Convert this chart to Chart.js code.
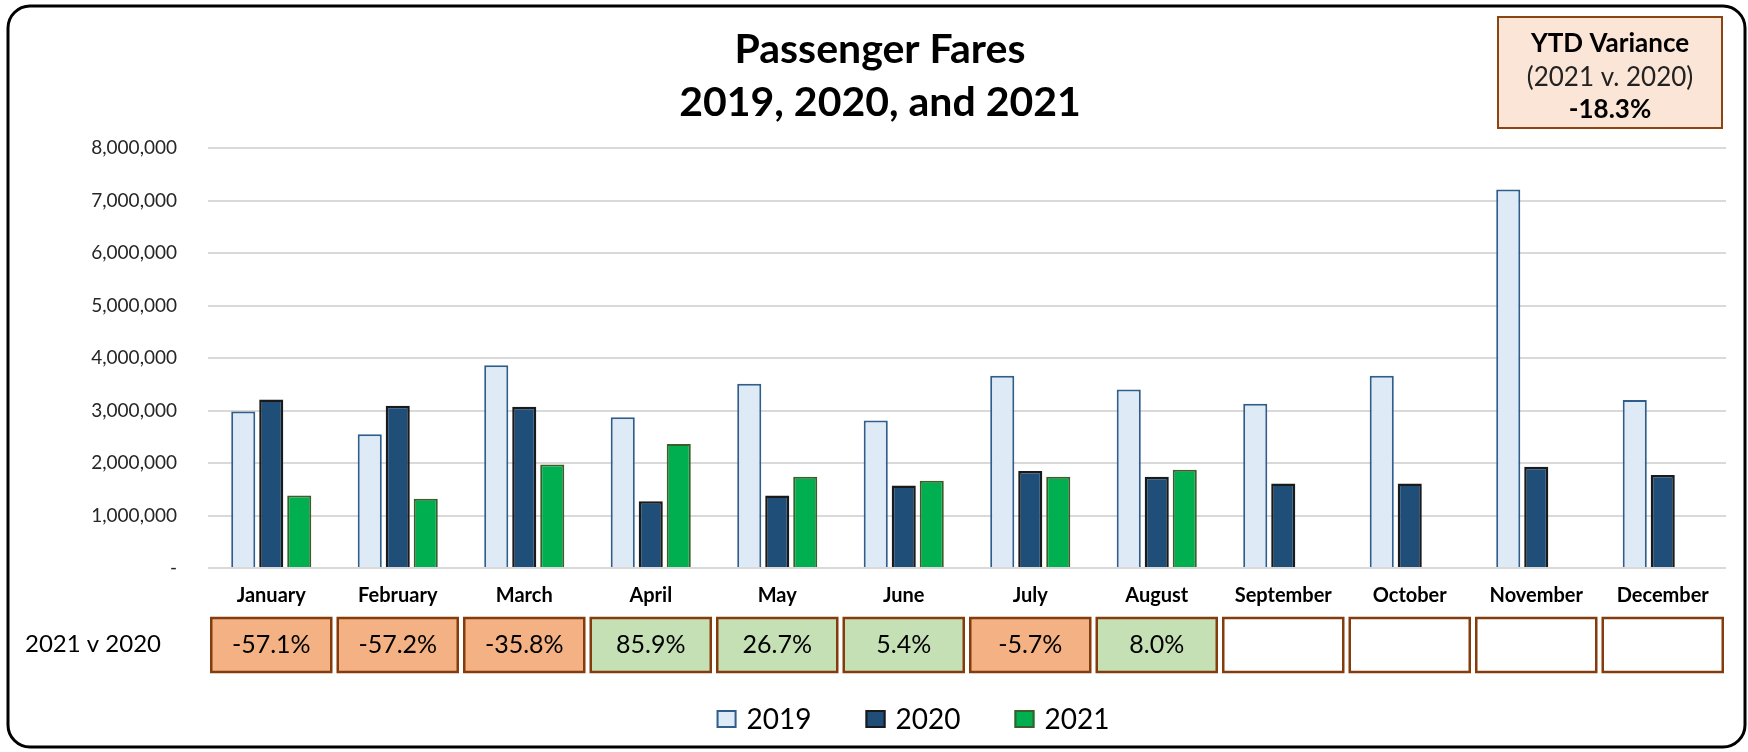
<!DOCTYPE html>
<html>
<head>
<meta charset="utf-8">
<title>Passenger Fares</title>
<script src="https://cdn.jsdelivr.net/npm/chart.js@4.4.1/dist/chart.umd.min.js"></script>
<style>
  body { margin: 0; background: #fff; }
  #caja { position: relative; width: 1748px; height: 752px; }
</style>
</head>
<body>
<div id="caja"><canvas id="tarifas" width="1748" height="752"></canvas></div>
<script>
// datos
const meses = ['January', 'February', 'March', 'April', 'May', 'June', 'July', 'August', 'September', 'October', 'November', 'December'];
const fares2019 = [2980000, 2550000, 3860000, 2870000, 3510000, 2810000, 3660000, 3400000, 3130000, 3660000, 7210000, 3200000];
const fares2020 = [3210000, 3090000, 3070000, 1270000, 1380000, 1570000, 1850000, 1740000, 1610000, 1610000, 1930000, 1770000];
const fares2021 = [1380000, 1320000, 1970000, 2360000, 1740000, 1660000, 1740000, 1870000, null, null, null, null];
const variacion = [-57.1, -57.2, -35.8, 85.9, 26.7, 5.4, -5.7, 8.0, null, null, null, null];
const titulo = ['Passenger Fares', '2019, 2020, and 2021'];
const ytdTexto = ['YTD Variance', '(2021 v. 2020)', '-18.3%'];
const etiquetaFila = '2021 v 2020';

const fuente = 'Lato, "Open Sans", sans-serif';

// marco redondeado y fondo
const marco = {
    id: 'marco',
    beforeDraw(chart) {
        const ctx = chart.ctx;
        ctx.save();
        ctx.fillStyle = '#fff';
        ctx.fillRect(0, 0, chart.width, chart.height);
        ctx.beginPath();
        ctx.roundRect(8, 6, 1737, 741, 22);
        ctx.lineWidth = 3;
        ctx.strokeStyle = '#000';
        ctx.stroke();
        ctx.restore();
    }
};

// titulo, caja YTD, fila de variacion y leyenda
const extras = {
    id: 'extras',
    afterDraw(chart) {
        const ctx = chart.ctx;
        const x = chart.scales.x;
        const area = chart.chartArea;
        ctx.save();

        // titulo
        ctx.fillStyle = '#000';
        ctx.textAlign = 'center';
        ctx.textBaseline = 'middle';
        ctx.font = 'bold 41px ' + fuente;
        ctx.fillText(titulo[0], 880, 50);
        ctx.fillText(titulo[1], 880, 103);

        // caja YTD
        ctx.fillStyle = '#fbe5d6';
        ctx.fillRect(1498, 17, 224, 111);
        ctx.lineWidth = 2;
        ctx.strokeStyle = '#8b4513';
        ctx.strokeRect(1498, 17, 224, 111);
        ctx.fillStyle = '#000';
        ctx.font = 'bold 26px ' + fuente;
        ctx.fillText(ytdTexto[0], 1610, 44);
        ctx.font = '26px ' + fuente;
        ctx.fillStyle = '#222';
        ctx.fillText(ytdTexto[1], 1610, 78);
        ctx.font = 'bold 26px ' + fuente;
        ctx.fillStyle = '#000';
        ctx.fillText(ytdTexto[2], 1610, 110);

        // fila 2021 v 2020
        const filaY = area.bottom + 50;
        ctx.textAlign = 'left';
        ctx.font = '24px ' + fuente;
        ctx.fillStyle = '#000';
        ctx.fillText(etiquetaFila, 25, filaY + 26);
        ctx.textAlign = 'center';
        meses.forEach((m, i) => {
            const cx = x.getPixelForValue(i);
            const v = variacion[i];
            const bx = cx - 60;
            if (v === null) {
                ctx.fillStyle = '#fff';
            } else {
                ctx.fillStyle = v < 0 ? '#f4b183' : '#c5e0b4';
            }
            ctx.fillRect(bx, filaY, 120, 54);
            ctx.lineWidth = 2.5;
            ctx.strokeStyle = '#843c0c';
            ctx.strokeRect(bx, filaY, 120, 54);
            if (v !== null) {
                ctx.fillStyle = '#000';
                ctx.font = '25px ' + fuente;
                ctx.fillText(v.toFixed(1) + '%', cx, filaY + 27);
            }
        });

        // leyenda
        ctx.font = '28px ' + fuente;
        ctx.textAlign = 'left';
        const items = chart.data.datasets.map(ds => ({
            ds: ds,
            w: 20 + 10 + ctx.measureText(ds.label).width
        }));
        const sep = 54;
        let total = items.reduce((a, it) => a + it.w, 0) + sep * (items.length - 1);
        let lx = 913 - total / 2;
        const ly = 719;
        items.forEach(it => {
            ctx.fillStyle = it.ds.backgroundColor;
            ctx.fillRect(lx, ly - 9, 20, 18);
            ctx.lineWidth = 2;
            ctx.strokeStyle = it.ds.borderColor;
            ctx.strokeRect(lx + 1, ly - 8, 18, 16);
            ctx.fillStyle = '#000';
            ctx.fillText(it.ds.label, lx + 30, ly + 1);
            lx += it.w + sep;
        });

        ctx.restore();
    }
};

const ctx = document.getElementById('tarifas').getContext('2d');
const grafica = new Chart(ctx, {
    type: 'bar',
    data: {
        labels: meses,
        datasets: [{
            label: '2019',
            data: fares2019,
            backgroundColor: '#deeaf6',
            borderColor: '#2f5d8c',
            borderWidth: 2
        }, {
            label: '2020',
            data: fares2020,
            backgroundColor: '#1f4e79',
            borderColor: '#1a1a1a',
            borderWidth: 2.5
        }, {
            label: '2021',
            data: fares2021,
            backgroundColor: '#00b050',
            borderColor: '#3b5e2b',
            borderWidth: 2
        }]
    },
    options: {
        responsive: false,
        animation: false,
        devicePixelRatio: 1,
        categoryPercentage: 0.664,
        barPercentage: 0.86,
        layout: {
            padding: { top: 148, right: 22, bottom: 144, left: 0 }
        },
        scales: {
            x: {
                grid: { display: false },
                border: { display: false },
                ticks: {
                    color: '#000',
                    padding: 8,
                    font: { family: fuente, size: 20, weight: 'bold' }
                },
                afterFit(s) { s.height = 40; }
            },
            y: {
                min: 0,
                max: 8000000,
                grid: { color: '#d9d9d9', lineWidth: 2, drawTicks: false },
                border: { display: false },
                ticks: {
                    stepSize: 1000000,
                    padding: 31,
                    color: '#262626',
                    font: { family: fuente, size: 19 },
                    callback: function(v) {
                        return v === 0 ? '-' : v.toLocaleString('en-US'); // formato contable
                    }
                },
                afterFit(s) { s.width = 208; }
            }
        },
        plugins: {
            legend: { display: false },
            title: { display: false },
            tooltip: { enabled: false }
        }
    },
    plugins: [marco, extras]
});
</script>
</body>
</html>
